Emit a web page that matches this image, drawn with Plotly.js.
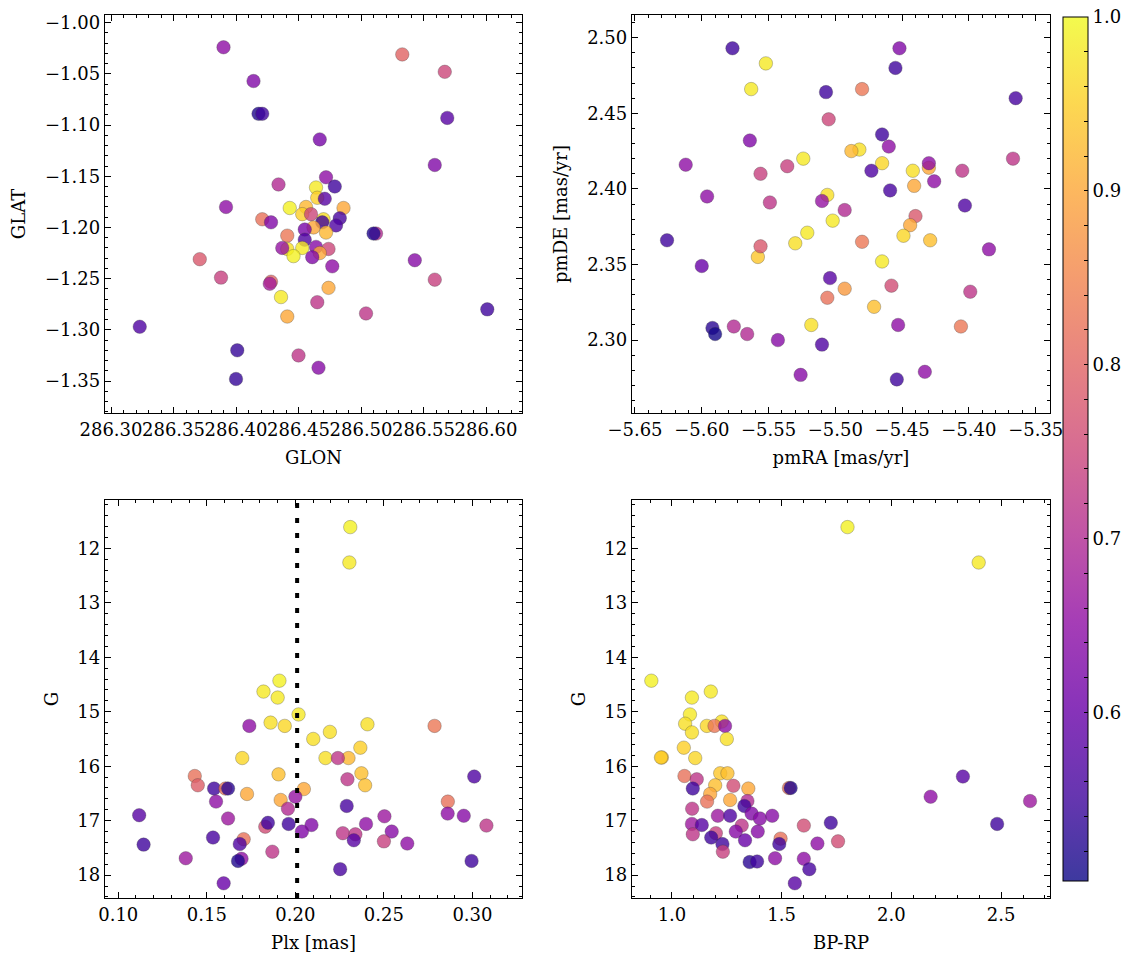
<!DOCTYPE html>
<html><head><meta charset="utf-8">
<script src="https://cdn.plot.ly/plotly-3.0.1.min.js"></script>
<style>body{margin:0;background:#fff}#chart{width:1133px;height:965px}</style>
</head><body><div id="chart"></div>
<script>
// Panel A: sky positions
const glon = [286.390,286.533,286.567,286.414,286.418,286.421,286.569,286.467,286.559,286.472,286.434,286.479,286.464,286.465,286.471,286.443,286.456,286.486,286.392,286.453,286.460,286.421,286.428,286.470,286.469,286.483,286.480,286.462,286.472,286.512,286.510,286.455,286.441,286.455,286.453,286.441,286.437,286.446,286.464,286.474,286.467,286.461,286.477,286.543,286.371,286.388,286.559,286.428,286.427,286.474,286.436,286.465,286.504,286.441,286.601,286.323,286.401,286.450,286.466,286.400];
const glat = [-1.024,-1.031,-1.048,-1.057,-1.089,-1.089,-1.093,-1.114,-1.139,-1.151,-1.158,-1.160,-1.161,-1.171,-1.172,-1.181,-1.180,-1.181,-1.180,-1.187,-1.187,-1.192,-1.195,-1.192,-1.195,-1.191,-1.198,-1.200,-1.205,-1.206,-1.206,-1.202,-1.208,-1.212,-1.220,-1.221,-1.220,-1.228,-1.219,-1.221,-1.225,-1.229,-1.238,-1.232,-1.231,-1.249,-1.251,-1.253,-1.255,-1.259,-1.268,-1.273,-1.284,-1.287,-1.280,-1.297,-1.320,-1.325,-1.337,-1.348];
const probA = [0.65,0.80,0.75,0.63,0.52,0.55,0.58,0.62,0.63,0.65,0.70,0.55,0.98,0.95,0.58,0.99,0.92,0.90,0.65,0.95,0.75,0.82,0.63,0.97,0.55,0.56,0.57,0.90,0.92,0.70,0.52,0.62,0.83,0.57,0.98,0.97,0.66,0.99,0.64,0.75,0.90,0.63,0.65,0.64,0.78,0.74,0.74,0.80,0.68,0.90,0.98,0.72,0.72,0.90,0.55,0.57,0.54,0.72,0.64,0.54];

// Panel B: proper motions
const pmra = [-5.577,-5.452,-5.552,-5.455,-5.563,-5.507,-5.480,-5.365,-5.505,-5.465,-5.564,-5.460,-5.482,-5.488,-5.524,-5.612,-5.465,-5.536,-5.430,-5.430,-5.442,-5.405,-5.367,-5.556,-5.473,-5.426,-5.441,-5.459,-5.596,-5.506,-5.510,-5.549,-5.403,-5.493,-5.440,-5.502,-5.444,-5.521,-5.449,-5.626,-5.530,-5.480,-5.429,-5.558,-5.556,-5.385,-5.600,-5.465,-5.504,-5.458,-5.493,-5.399,-5.506,-5.471,-5.592,-5.590,-5.576,-5.566,-5.518,-5.453,-5.406,-5.543,-5.510,-5.526,-5.433,-5.454];
const pmde = [2.493,2.493,2.483,2.480,2.466,2.464,2.466,2.460,2.446,2.436,2.432,2.428,2.426,2.425,2.420,2.416,2.417,2.415,2.414,2.417,2.412,2.412,2.420,2.410,2.412,2.405,2.402,2.399,2.395,2.396,2.392,2.391,2.389,2.386,2.382,2.379,2.376,2.371,2.369,2.366,2.364,2.365,2.366,2.355,2.362,2.360,2.349,2.352,2.341,2.336,2.334,2.332,2.328,2.322,2.308,2.304,2.309,2.304,2.310,2.310,2.309,2.300,2.297,2.277,2.279,2.274];
const probB = [0.55,0.63,0.98,0.55,0.98,0.55,0.83,0.56,0.75,0.55,0.63,0.65,0.97,0.92,0.98,0.65,0.96,0.74,0.90,0.65,0.97,0.72,0.72,0.74,0.57,0.65,0.90,0.56,0.65,0.97,0.66,0.72,0.57,0.70,0.78,0.98,0.90,0.98,0.96,0.55,0.97,0.83,0.93,0.94,0.78,0.65,0.60,0.98,0.58,0.76,0.88,0.72,0.82,0.93,0.53,0.51,0.70,0.70,0.97,0.65,0.83,0.64,0.57,0.64,0.65,0.55];

// Panel C: parallax vs G
const plx = [0.231,0.2305,0.191,0.182,0.190,0.2018,0.186,0.194,0.174,0.2407,0.2786,0.2195,0.2101,0.2367,0.170,0.217,0.230,0.224,0.1905,0.2373,0.1432,0.1449,0.2294,0.2394,0.301,0.1541,0.1605,0.162,0.1727,0.2048,0.200,0.1917,0.1958,0.1552,0.2861,0.229,0.1118,0.162,0.286,0.2951,0.2503,0.3079,0.183,0.1845,0.1962,0.2091,0.2037,0.2399,0.2544,0.2268,0.2339,0.233,0.250,0.2632,0.1535,0.1708,0.1686,0.1143,0.1381,0.187,0.1696,0.1676,0.2995,0.2253,0.1595];
const gPlx = [11.61,12.26,14.43,14.63,14.74,15.05,15.20,15.26,15.26,15.23,15.26,15.37,15.50,15.66,15.85,15.85,15.85,15.85,16.15,16.13,16.18,16.35,16.24,16.35,16.19,16.41,16.41,16.41,16.51,16.42,16.56,16.62,16.78,16.65,16.65,16.73,16.90,16.96,16.87,16.91,16.92,17.09,17.11,17.04,17.06,17.08,17.20,17.06,17.20,17.23,17.25,17.36,17.38,17.42,17.31,17.34,17.43,17.44,17.69,17.57,17.70,17.74,17.74,17.89,18.15];
const probC = [0.99,0.98,0.99,0.98,0.98,0.98,0.97,0.96,0.65,0.97,0.83,0.97,0.97,0.95,0.96,0.97,0.92,0.72,0.93,0.93,0.82,0.79,0.72,0.93,0.57,0.55,0.82,0.53,0.90,0.90,0.66,0.90,0.70,0.65,0.82,0.56,0.58,0.67,0.65,0.64,0.67,0.72,0.76,0.55,0.55,0.63,0.63,0.65,0.64,0.72,0.72,0.58,0.74,0.65,0.56,0.82,0.57,0.55,0.67,0.72,0.65,0.52,0.55,0.56,0.60];
const plxCut = 0.201;

// Panel D: colour-magnitude
const bprp = [1.80,2.398,0.906,1.177,1.091,1.082,1.060,1.091,1.159,1.227,1.194,1.242,1.250,1.054,0.954,0.950,1.106,1.220,1.253,1.057,1.113,1.197,1.280,1.348,1.095,1.533,1.541,1.174,1.160,1.265,1.344,1.330,1.092,2.326,2.179,2.632,2.482,1.209,1.265,1.363,1.401,1.457,1.091,1.136,1.318,1.291,1.391,1.601,1.724,1.095,1.200,1.179,1.333,1.495,1.489,1.230,1.232,1.663,1.757,1.354,1.388,1.470,1.601,1.626,1.560];
const gCol = [11.61,12.26,14.43,14.63,14.74,15.05,15.22,15.38,15.26,15.18,15.26,15.26,15.50,15.66,15.84,15.84,15.85,16.13,16.13,16.18,16.24,16.35,16.36,16.41,16.41,16.40,16.40,16.51,16.65,16.62,16.64,16.73,16.78,16.19,16.56,16.64,17.06,16.91,16.91,16.87,16.96,16.91,17.06,17.08,17.09,17.20,17.20,17.09,17.04,17.25,17.23,17.31,17.36,17.33,17.43,17.43,17.57,17.42,17.38,17.76,17.75,17.69,17.70,17.89,18.15];
const probD = [0.99,0.98,0.99,0.98,0.98,0.98,0.97,0.97,0.96,0.97,0.83,0.65,0.97,0.95,0.93,0.95,0.96,0.94,0.93,0.82,0.72,0.93,0.76,0.90,0.55,0.82,0.52,0.90,0.82,0.90,0.70,0.55,0.72,0.58,0.65,0.67,0.55,0.67,0.57,0.63,0.64,0.64,0.67,0.58,0.72,0.64,0.64,0.76,0.55,0.72,0.74,0.55,0.60,0.82,0.55,0.55,0.74,0.65,0.76,0.53,0.55,0.65,0.65,0.56,0.58];

// Colorbar ticks
const cbTickVals = [0.52,0.54,0.56,0.58,0.60,0.62,0.64,0.66,0.68,0.70,0.72,0.74,0.76,0.78,0.80,0.82,0.84,0.86,0.88,0.90,0.92,0.94,0.96,0.98,1.00];
const cbTickText = ['','','','','0.6','','','','','0.7','','','','','0.8','','','','','0.9','','','','','1.0'];

// matplotlib "plasma" colormap, drawn at alpha 0.8
const ALPHA = 0.8;
const plasmaStops = [0,0.1,0.2,0.3,0.4,0.5,0.6,0.7,0.8,0.9,1];
const plasmaRGB = [[13,8,135],[65,4,157],[106,0,168],[143,13,164],[177,42,144],[204,71,120],[225,100,98],[242,132,75],[252,166,54],[252,206,37],[240,249,33]];
const plasma = plasmaStops.map((s,i)=>[s,'rgba('+plasmaRGB[i].join(',')+','+ALPHA+')']);

const FONT = 'DejaVu Serif, Liberation Serif, serif';
const TICKSIZE = 18, TITLESIZE = 18;

function mk(x, y, c, xa, ya) {
  return {type:'scatter', mode:'markers', x:x, y:y, xaxis:xa, yaxis:ya, showlegend:false,
    marker:{color:c, coloraxis:'coloraxis', size:13.5, opacity:1,
      line:{width:0.6, color:'rgba(60,60,60,0.5)'}}, hoverinfo:'x+y'};
}
function ax(o) {
  const base = {showline:true, linecolor:'black', linewidth:1.2, mirror:'ticks',
    ticks:'inside', ticklen:6, tickwidth:1, tickcolor:'black', showgrid:false, zeroline:false,
    tickangle:0, tickfont:{family:FONT, size:TICKSIZE, color:'black'},
    minor:{ticks:'inside', ticklen:3, tickwidth:1, tickcolor:'black', dtick:o.minor, showgrid:false}};
  const r = Object.assign(base, o.rest);
  r.title = {text:o.title, font:{family:FONT, size:TITLESIZE, color:'black'}, standoff:o.standoff||12};
  return r;
}

const traces = [
  mk(glon, glat, probA, 'x', 'y'),
  mk(pmra, pmde, probB, 'x2', 'y2'),
  mk(plx, gPlx, probC, 'x3', 'y3'),
  mk(bprp, gCol, probD, 'x4', 'y4')
];

const xdL = [0, 0.4413], xdR = [0.5577, 1];
const ydT = [0.5493, 1], ydB = [0, 0.4507];

const layout = {
  width:1133, height:965,
  margin:{l:105, r:83, t:15, b:67, autoexpand:false},
  paper_bgcolor:'white', plot_bgcolor:'white',
  font:{family:FONT, color:'black'},
  xaxis: ax({title:'GLON', minor:0.01, rest:{domain:xdL, anchor:'y', range:[286.2952,286.6288], dtick:0.05, tick0:286.30, tickformat:'.2f'}}),
  yaxis: ax({title:'GLAT', minor:0.01, standoff:14, rest:{domain:ydT, anchor:'x', range:[-1.3812,-0.9925], dtick:0.05, tick0:-1.0, tickformat:'.2f'}}),
  xaxis2: ax({title:'pmRA [mas/yr]', minor:0.01, rest:{domain:xdR, anchor:'y2', range:[-5.6522,-5.3393], dtick:0.05, tick0:-5.65, tickformat:'.2f'}}),
  yaxis2: ax({title:'pmDE [mas/yr]', minor:0.01, standoff:14, rest:{domain:ydT, anchor:'x2', range:[2.2518,2.515], dtick:0.05, tick0:2.30, tickformat:'.2f'}}),
  xaxis3: ax({title:'Plx [mas]', minor:0.01, rest:{domain:xdL, anchor:'y3', range:[0.0925,0.328], dtick:0.05, tick0:0.10, tickformat:'.2f'}}),
  yaxis3: ax({title:'G', minor:0.2, standoff:14, rest:{domain:ydB, anchor:'x3', range:[18.42,11.113], dtick:1, tick0:12}}),
  xaxis4: ax({title:'BP-RP', minor:0.1, rest:{domain:xdR, anchor:'y4', range:[0.818,2.723], dtick:0.5, tick0:1.0, tickformat:'.1f'}}),
  yaxis4: ax({title:'G', minor:0.2, standoff:14, rest:{domain:ydB, anchor:'x4', range:[18.42,11.113], dtick:1, tick0:12}}),
  coloraxis:{colorscale:plasma, cmin:0.503, cmax:1.0,
    colorbar:{x:1.0138, xanchor:'left', xpad:0, ypad:0, thickness:25, thicknessmode:'pixels',
      len:0.9785, lenmode:'fraction', y:0.5085, yanchor:'middle',
      outlinewidth:1, outlinecolor:'black', ticks:'inside', ticklen:4, tickcolor:'black',
      tickvals:cbTickVals, ticktext:cbTickText,
      tickfont:{family:FONT, size:TICKSIZE, color:'black'}}},
  shapes:[{type:'line', xref:'x3', yref:'y3 domain', x0:plxCut, x1:plxCut, y0:0, y1:1,
    line:{color:'black', width:4, dash:'5px,10px'}}]
};

Plotly.newPlot('chart', traces, layout, {staticPlot:true, displayModeBar:false});
</script>
</body></html>
